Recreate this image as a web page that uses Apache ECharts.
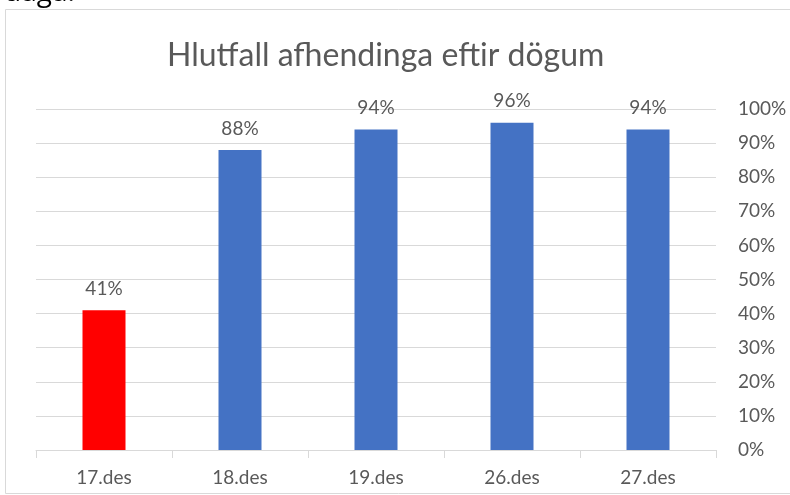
<!DOCTYPE html>
<html lang="is">
  <head>
    <meta charset="UTF-8" />
    <title>Hlutfall afhendinga eftir dögum</title>
    <style>
      * {
        padding: 0;
        margin: 0;
      }
      html,
      body {
        width: 100%;
        height: 100%;
        background: #fff;
      }
      #main {
        width: 790px;
        height: 495px;
      }
    </style>
  </head>
  <body>
    <div id="main"></div>
    <script src="https://cdn.jsdelivr.net/npm/echarts@6/dist/echarts.min.js"></script>
    <script>
      // gögn
      var days = ['17.des', '18.des', '19.des', '26.des', '27.des'];
      var shares = [41, 88, 94, 96, 94];
      var barColors = ['#FF0000', '#4472C4', '#4472C4', '#4472C4', '#4472C4'];

      var textColor = '#595959';
      var lineColor = '#d9d9d9';
      var font = 'Lato';

      var myChart = echarts.init(document.getElementById('main'));

      var option = {
        animation: false,
        title: {
          text: 'Hlutfall afhendinga eftir dögum',
          left: 162,
          top: 35,
          textStyle: {
            color: textColor,
            fontFamily: font,
            fontWeight: 'normal',
            fontSize: 32,
          },
        },
        graphic: [
          {
            type: 'rect',
            shape: { x: 5.5, y: 9.5, width: 800, height: 484 },
            style: { fill: 'none', stroke: lineColor, lineWidth: 1 },
            silent: true,
          },
          {
            type: 'text',
            left: 4,
            top: -21,
            style: {
              text: 'daga.',
              fill: '#000',
              fontFamily: 'Open Sans',
              fontSize: 28,
            },
          },
        ],
        grid: {
          left: 36,
          right: 74,
          top: 109,
          bottom: 45,
        },
        xAxis: {
          type: 'category',
          data: days,
          axisLine: { lineStyle: { color: lineColor } },
          axisTick: { show: true, length: 8, lineStyle: { color: lineColor } },
          axisLabel: {
            color: textColor,
            fontFamily: font,
            fontSize: 19,
            margin: 18,
          },
        },
        yAxis: {
          type: 'value',
          position: 'right',
          min: 0,
          max: 100,
          interval: 10,
          axisLine: { show: false },
          axisTick: { show: false },
          splitLine: { lineStyle: { color: lineColor } },
          axisLabel: {
            color: textColor,
            fontFamily: font,
            fontSize: 19,
            margin: 22,
            formatter: '{value}%',
          },
        },
        series: [
          {
            type: 'bar',
            barWidth: 43,
            data: shares.map(function (v, i) {
              return { value: v, itemStyle: { color: barColors[i] } };
            }),
            label: {
              show: true,
              position: 'top',
              distance: 12,
              color: textColor,
              fontFamily: font,
              fontSize: 19,
              formatter: '{c}%',
            },
          },
        ],
      };
      myChart.setOption(option);
    </script>
  </body>
</html>
